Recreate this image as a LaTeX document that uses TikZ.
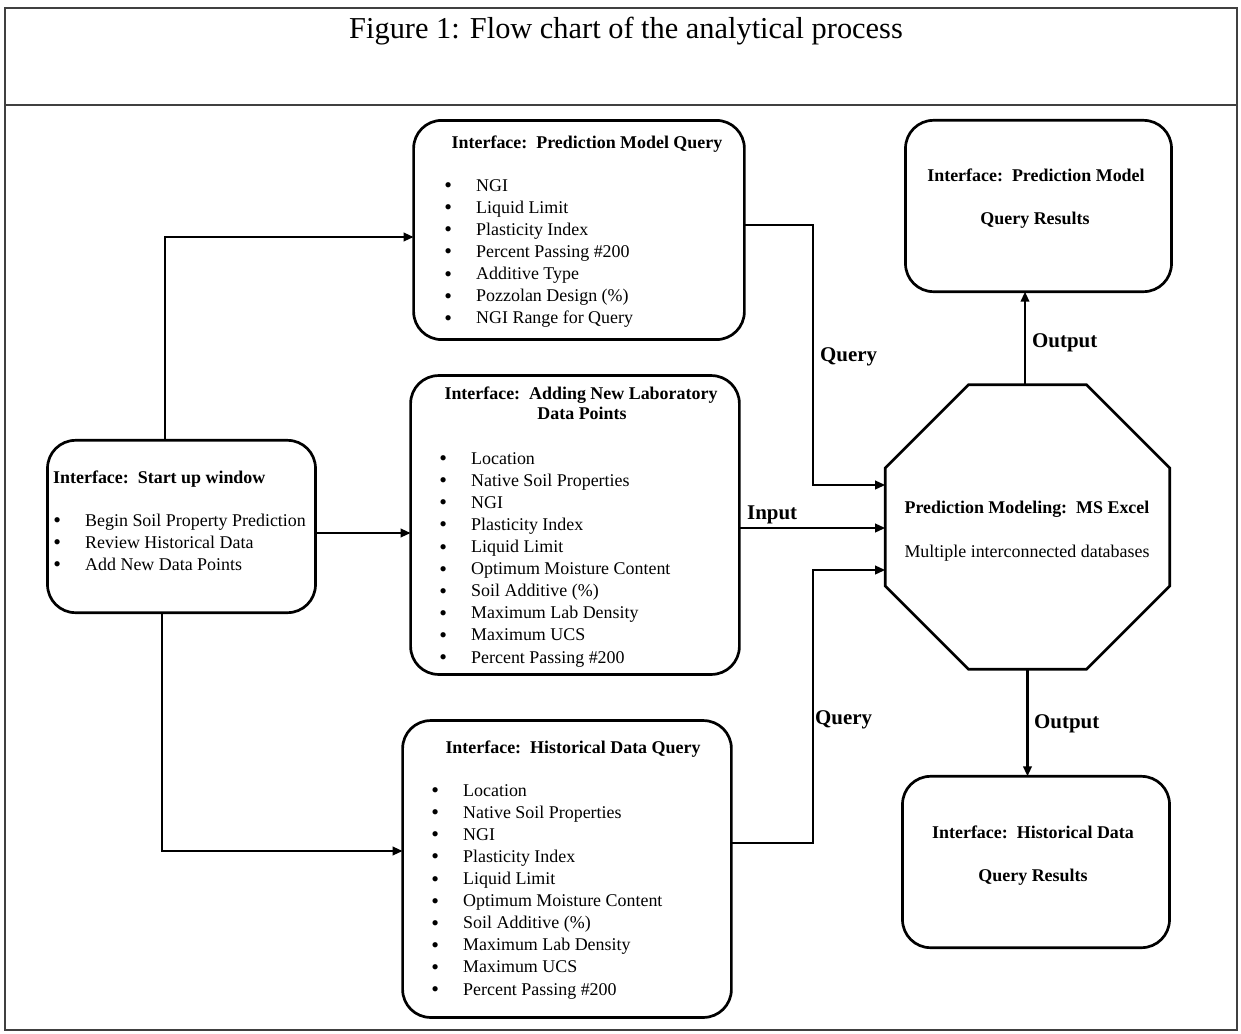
\documentclass[tikz,border=0pt]{standalone}
\usepackage{fontspec}
\setmainfont{Liberation Serif}
\usetikzlibrary{arrows.meta,shapes.geometric}
\newcommand\fsz[2]{\fontsize{#1}{#2}\selectfont}
\newcommand\bl{\makebox[31.9bp][l]{\raisebox{-1.6bp}{\fontsize{22}{22}\selectfont\textbullet}}}
\begin{document}
\begin{tikzpicture}[x=1bp,y=-1bp,
  box/.style={draw, line width=2.7bp, rounded corners=28bp, inner sep=0pt, outer sep=0pt},
  arr/.style={line width=2.1bp, -{Triangle[length=10bp,width=8.5bp]}},
  ttl/.style={font=\fsz{18}{20}\bfseries, inner sep=0pt, anchor=base},
  lbl/.style={font=\fsz{21}{24}\bfseries, inner sep=0pt, anchor=base west},
  lst/.style={font=\fsz{18}{22.2}, inner sep=0pt, anchor=base west},
]
\useasboundingbox (0,0) rectangle (1241,1034);
\fill[white] (0,0) rectangle (1241,1034);
\draw[line width=1.5bp, black!75] (5,8) rectangle (1237,1030);
\draw[line width=1.5bp, black!75] (5,105) -- (1237,105);
\node[font=\fsz{30.5}{34}, inner sep=0pt, anchor=base] (title) at (626,38) {Figure 1: Flow chart of the analytical process};

% boxes
\node[box, minimum width=269, minimum height=173] (start) at (181.5,526.5) {};
\node[box, minimum width=332, minimum height=220] (pmq) at (579,230) {};
\node[box, minimum width=330, minimum height=300] (add) at (575,525) {};
\node[box, minimum width=330, minimum height=298] (hist) at (567,869) {};
\node[box, minimum width=267, minimum height=172] (pmr) at (1038.5,206) {};
\node[box, minimum width=268, minimum height=172] (hdr) at (1036,862) {};
\node[regular polygon, regular polygon sides=8, minimum size=308bp, draw, line width=2.7bp, inner sep=0pt, outer sep=0pt] (oct) at (1027.5,527) {};

% start box
\node[ttl, anchor=base west] (startt) at (53,483) {Interface:\ \ Start up window};
\node[lst] (startl) at (53.1,526) {\begin{tabular}[t]{@{}l@{}}
\bl Begin Soil Property Prediction\\
\bl Review Historical Data\\
\bl Add New Data Points
\end{tabular}};

% prediction model query
\node[ttl] (pmqt) at (587,148) {Interface:\ \ Prediction Model Query};
\node[lst] (pmql) at (444.1,191) {\begin{tabular}[t]{@{}l@{}}
\bl NGI\\
\bl Liquid Limit\\
\bl Plasticity Index\\
\bl Percent Passing \#200\\
\bl Additive Type\\
\bl Pozzolan Design (\%)\\
\bl NGI Range for Query
\end{tabular}};

% adding new lab data
\node[ttl] (addt1) at (581,399) {Interface:\ \ Adding New Laboratory};
\node[ttl] (addt2) at (582,419) {Data Points};
\node[lst] (addl) at (439.1,464) {\begin{tabular}[t]{@{}l@{}}
\bl Location\\
\bl Native Soil Properties\\
\bl NGI\\
\bl Plasticity Index\\
\bl Liquid Limit\\
\bl Optimum Moisture Content\\
\bl Soil Additive (\%)\\
\bl Maximum Lab Density\\
\bl Maximum UCS\\
\bl Percent Passing \#200
\end{tabular}};

% historical data query
\node[ttl] (histt) at (573,753) {Interface:\ \ Historical Data Query};
\node[lst] (histl) at (431.1,796) {\begin{tabular}[t]{@{}l@{}}
\bl Location\\
\bl Native Soil Properties\\
\bl NGI\\
\bl Plasticity Index\\
\bl Liquid Limit\\
\bl Optimum Moisture Content\\
\bl Soil Additive (\%)\\
\bl Maximum Lab Density\\
\bl Maximum UCS\\
\bl Percent Passing \#200
\end{tabular}};

% result boxes
\node[ttl] (pmrt1) at (1036,181) {Interface:\ \ Prediction Model};
\node[ttl] (pmrt2) at (1035,224) {Query Results};
\node[ttl] (hdrt1) at (1033,838) {Interface:\ \ Historical Data};
\node[ttl] (hdrt2) at (1033,881) {Query Results};

% octagon text
\node[ttl] (octt1) at (1027,513) {Prediction Modeling:\ \ MS Excel};
\node[font=\fsz{18}{20}, inner sep=0pt, anchor=base] (octt2) at (1027,557) {Multiple interconnected databases};

% connectors
\coordinate (s1) at ([yshift=-6.5bp]start.east);
\coordinate (s2) at ([yshift=-3bp]add.east);
\coordinate (jq) at (813,355);
\coordinate (jh) at (813,700);
\coordinate (o1) at ([xshift=-2.5bp]oct.north);
\draw[arr] ([xshift=-16.5bp]start.north) |- ([yshift=-7bp]pmq.west);
\draw[arr] (s1) -- (s1 -| add.west);
\draw[arr] ([xshift=-19.5bp]start.south) |- ([yshift=18bp]hist.west);
\draw[arr] ([yshift=5bp]pmq.east) -| (jq) |- ([yshift=42bp]oct.west);
\draw[arr] (s2) -- (s2 -| oct.west);
\draw[arr] ([yshift=26bp]hist.east) -| (jh) |- ([yshift=-43bp]oct.west);
\draw[arr] (o1) -- (o1 |- pmr.south);
\draw[arr] (oct.south) -- (oct.south |- hdr.north);

% labels
\node[lbl] (lq1) at (820,361) {Query};
\node[lbl] (lin) at (747,519) {Input};
\node[lbl] (lq2) at (815,724) {Query};
\node[lbl] (lo1) at (1032,347) {Output};
\node[lbl] (lo2) at (1034,728) {Output};
\end{tikzpicture}
\end{document}
